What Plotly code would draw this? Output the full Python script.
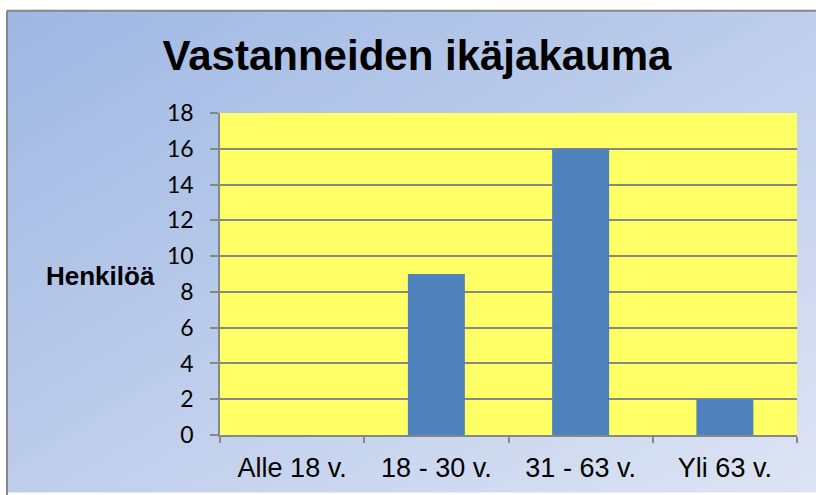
import base64
import plotly.graph_objects as go

categories = ["Alle 18 v.", "18 - 30 v.", "31 - 63 v.", "Yli 63 v."]
values = [0, 9, 16, 2]
title_text = "Vastanneiden ikäjakauma"
y_title = "Henkilöä"

W, H = 816, 495
L, R, T, B = 220, 797, 113, 437
pw, ph = R - L, B - T

def px_x(px):
    return (px - L) / pw

def px_y(py):
    return (B - py) / ph

svg = (
    '<svg xmlns="http://www.w3.org/2000/svg" width="809" height="485" preserveAspectRatio="none">'
    '<defs><linearGradient id="g" x1="0" y1="0" x2="1" y2="1">'
    '<stop offset="0" stop-color="#9EB7E3"/>'
    '<stop offset="1" stop-color="#DDE4F4"/>'
    '</linearGradient></defs>'
    '<rect width="809" height="485" fill="url(#g)"/></svg>'
)
src = "data:image/svg+xml;base64," + base64.b64encode(svg.encode()).decode()

fig = go.Figure(go.Bar(
    x=categories, y=values, marker=dict(color="#4F81BD", line=dict(width=0)),
    width=0.395,
))

fig.update_layout(
    width=W, height=H,
    margin=dict(l=L, r=W - R, t=T, b=H - B),
    paper_bgcolor="white",
    plot_bgcolor="rgba(0,0,0,0)",
    showlegend=False,
    title=dict(text=title_text, x=417 / W, xanchor="center", y=1 - 55 / H, yanchor="middle",
               xref="container", yref="container",
               font=dict(family="Liberation Sans, Arial", size=42, color="black", weight="bold")),
    images=[dict(source=src, xref="paper", yref="paper", x=px_x(7), y=px_y(10),
                 sizex=(W - 7) / pw, sizey=(H - 10) / ph, sizing="stretch",
                 xanchor="left", yanchor="top", layer="below")],
    shapes=[
        dict(type="rect", xref="paper", yref="paper", x0=0, x1=1, y0=0, y1=1,
             fillcolor="#FFFF66", line=dict(width=0), layer="below"),
        dict(type="line", xref="paper", yref="paper", x0=px_x(7), x1=px_x(7), y0=px_y(10), y1=px_y(H + 5),
             line=dict(color="#878787", width=2), layer="above"),
        dict(type="line", xref="paper", yref="paper", x0=px_x(7), x1=px_x(W + 5), y0=px_y(10), y1=px_y(10),
             line=dict(color="#878787", width=2), layer="above"),
    ],
    annotations=[dict(text=y_title, xref="paper", yref="paper", x=px_x(100), y=px_y(277),
                      xanchor="center", yanchor="middle", showarrow=False,
                      font=dict(family="Liberation Sans, Arial", size=26, color="black", weight="bold"))],
    bargap=0.6,
)

fig.update_xaxes(
    type="category", showline=True, linecolor="#878787", linewidth=1.5,
    ticks="outside", ticklen=6, tickcolor="#878787", tickwidth=1.5, tickson="boundaries",
    showgrid=False,
    tickfont=dict(family="Liberation Sans, Arial", size=27, color="black"),
    ticklabelstandoff=8,
)
fig.update_yaxes(
    range=[0, 18], dtick=2, tick0=0, showline=True, linecolor="#878787", linewidth=1.5,
    ticks="outside", ticklen=8, tickcolor="#878787", tickwidth=1.5,
    showgrid=True, gridcolor="#878787", gridwidth=1.5, zeroline=False,
    tickfont=dict(family="Lato, Carlito, Calibri", size=23, color="black"),
    ticklabelstandoff=12,
)

fig.write_html("out.html", config={"displayModeBar": False},
               post_script="document.body.style.margin='0';document.body.style.overflow='hidden';")
